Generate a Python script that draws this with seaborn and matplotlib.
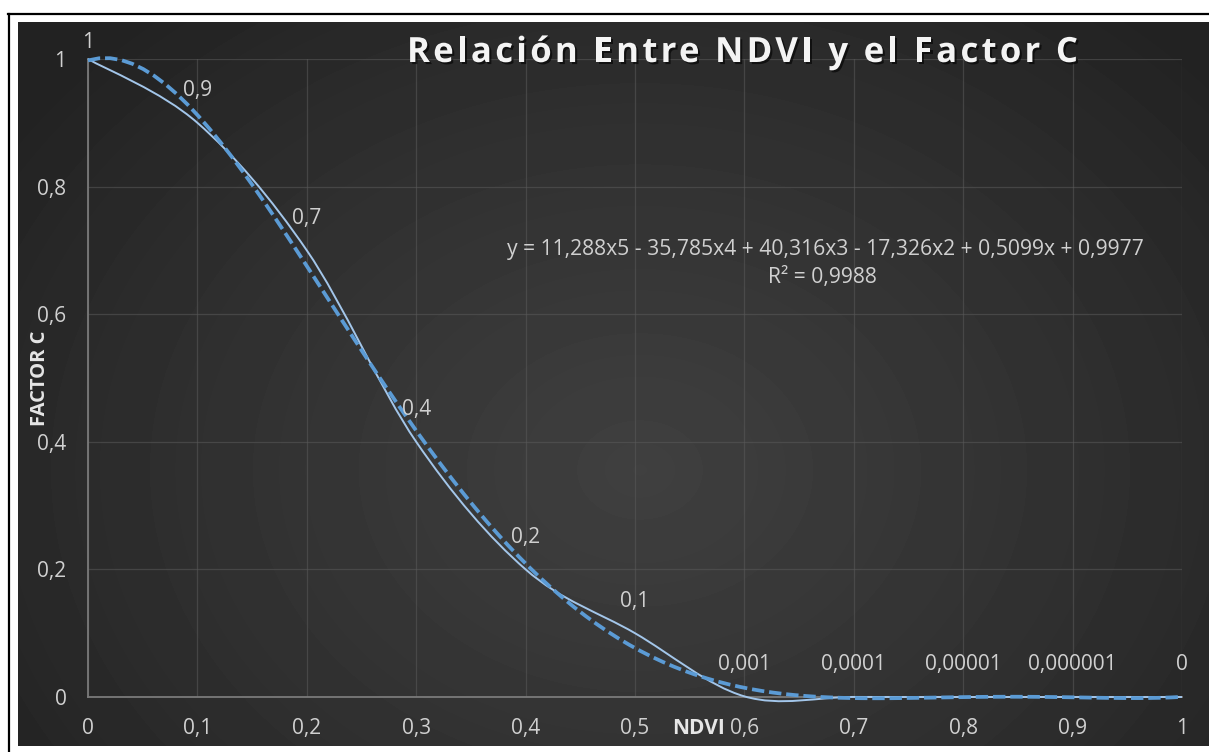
import numpy as np
import pandas as pd
import matplotlib
matplotlib.use("Agg")
import matplotlib.pyplot as plt
import matplotlib.patheffects as pe
from matplotlib.lines import Line2D
from matplotlib.path import Path
from matplotlib.patches import PathPatch
from matplotlib.font_manager import FontProperties
import seaborn as sns

# ---------------- data ----------------
ndvi = [0.0, 0.1, 0.2, 0.3, 0.4, 0.5, 0.6, 0.7, 0.8, 0.9, 1.0]
factor_c = [1.0, 0.9, 0.7, 0.4, 0.2, 0.1, 0.001, 0.0001, 0.00001, 0.000001, 0.0]
point_labels = ["1", "0,9", "0,7", "0,4", "0,2", "0,1", "0,001", "0,0001",
                "0,00001", "0,000001", "0"]
x_ticks = [0.0, 0.1, 0.2, 0.3, 0.4, 0.5, 0.6, 0.7, 0.8, 0.9, 1.0]
x_tick_labels = ["0", "0,1", "0,2", "0,3", "0,4", "0,5", "0,6", "0,7", "0,8", "0,9", "1"]
y_ticks = [0.0, 0.2, 0.4, 0.6, 0.8, 1.0]
y_tick_labels = ["0", "0,2", "0,4", "0,6", "0,8", "1"]
title = "Relación Entre NDVI y el Factor C"
equation = "y = 11,288x5 - 35,785x4 + 40,316x3 - 17,326x2 + 0,5099x + 0,9977"
r2_text = "R² = 0,9988"
x_title = "NDVI"
y_title = "FACTOR C"

# ---------------- figure ----------------
W, H = 1209, 752
plt.rcParams['font.family'] = ['Open Sans', 'DejaVu Sans']
fig = plt.figure(figsize=(W / 100, H / 100), dpi=100)
fig.patch.set_facecolor('white')

def fx(px):
    return px / W

def fy(py):
    return 1 - py / H

# dark gradient chart area
bx0, by0, bx1, by1 = 18, 22, 1209, 746
bg = fig.add_axes([fx(bx0), fy(by1), fx(bx1 - bx0), (by1 - by0) / H], zorder=0)
gx = np.arange(bx0, bx1) + 0.5
gy = np.arange(by0, by1) + 0.5
GX, GY = np.meshgrid(gx, gy)
r = np.sqrt(((GX - 640) / 760.0) ** 2 + ((GY - 470) / 600.0) ** 2)
val = (0x22 + (0x40 - 0x22) * np.clip(1 - r, 0, 1) ** 0.9) / 255.0
bg.imshow(val, cmap='gray', vmin=0, vmax=1, aspect='auto', interpolation='bilinear')
bg.set_axis_off()

# black frame (left and top)
fig.add_artist(Line2D([fx(8.5), fx(8.5)], [0, fy(13.5)], color='black', lw=1.6,
                      transform=fig.transFigure))
fig.add_artist(Line2D([fx(8), 1], [fy(13.5), fy(13.5)], color='black', lw=1.6,
                      transform=fig.transFigure))

# plot area
ax = fig.add_axes([fx(88), fy(697), fx(1182 - 88), (697 - 59) / H], zorder=1)
ax.set_facecolor('none')

df = pd.DataFrame({'NDVI': ndvi, 'FACTOR C': factor_c})

# series drawn as a smoothed line (Excel "smoothed line" style) through the points
pts = df[['NDVI', 'FACTOR C']].to_numpy(dtype=float)
ext = np.vstack([pts[0], pts, pts[-1]])
verts = [tuple(pts[0])]
codes = [Path.MOVETO]
for i in range(len(pts) - 1):
    p0, p1, p2, p3 = ext[i], ext[i + 1], ext[i + 2], ext[i + 3]
    c1 = p1 + (p2 - p0) / 6.0
    c2 = p2 - (p3 - p1) / 6.0
    verts += [tuple(c1), tuple(c2), tuple(p2)]
    codes += [Path.CURVE4] * 3
ax.add_patch(PathPatch(Path(verts, codes), facecolor='none', edgecolor='#a3c6ea',
                       lw=1.4, zorder=3, clip_on=False))

# polynomial (order 5) trendline through seaborn
sns.regplot(data=df, x='NDVI', y='FACTOR C', order=5, ci=None, scatter=False,
            truncate=True, ax=ax,
            line_kws=dict(color='#5b9bd5', lw=2.7, dashes=(3.3, 1.3), zorder=4))
for ln in ax.lines:
    ln.set_clip_on(False)

ax.set_xlim(0, 1)
ax.set_ylim(0, 1)
ax.set_xticks(x_ticks)
ax.set_xticklabels(x_tick_labels)
ax.set_yticks(y_ticks)
ax.set_yticklabels(y_tick_labels)
ax.set_xlabel("")
ax.set_ylabel("")
ax.tick_params(axis='both', length=0, labelsize=15, labelcolor='#d0d0d0')
ax.tick_params(axis='x', pad=22.5)
ax.tick_params(axis='y', pad=15.5)
for lab in ax.get_xticklabels():
    lab.set_verticalalignment('center')

ax.grid(True, color='#5a5a5a', lw=0.9, alpha=0.55)
ax.set_axisbelow(True)
for s in ['top', 'right']:
    ax.spines[s].set_visible(False)
for s in ['left', 'bottom']:
    ax.spines[s].set_color('#7a7a7a')
    ax.spines[s].set_linewidth(1.3)
    ax.spines[s].set_zorder(2)

# data labels above points
for xv, yv, txt in zip(ndvi, factor_c, point_labels):
    off = 16 if yv > 0.95 else 32
    ax.annotate(txt, (xv, yv), xytext=(0, off), textcoords='offset pixels',
                ha='center', va='center', fontsize=15, color='#d0d0d0',
                annotation_clip=False, zorder=5)

# trendline equation
fig.text(fx(825), fy(250), equation, ha='center', va='center', fontsize=15.2,
         color='#d0d0d0')
fig.text(fx(822), fy(277), r2_text, ha='center', va='center', fontsize=15.2,
         color='#d0d0d0')

# axis titles
fig.text(fx(699), fy(728), x_title, ha='center', va='center', fontsize=15,
         fontweight='bold', color='#e6e6e6')
fig.text(fx(40), fy(378), y_title, ha='center', va='center', rotation=90,
         fontsize=14.5, fontweight='bold', color='#e6e6e6')

# title with letter spacing
renderer = fig.canvas.get_renderer()
fp = FontProperties(family=['Open Sans', 'DejaVu Sans'], weight='bold', size=25)

def tw(s):
    return renderer.get_text_width_height_descent(s, fp, ismath=False)[0]

full_w = tw(title)
target_w = 1078 - 407
sp = (target_w - full_w) / (len(title) - 1)
x0 = 407
baseline = 62
shadow = [pe.withSimplePatchShadow(offset=(1.5, -1.5), shadow_rgbFace='black', alpha=0.6)]
for i, ch in enumerate(title):
    if ch == ' ':
        continue
    left = tw(title[:i + 1]) - tw(ch) + i * sp
    fig.text(fx(x0 + left), fy(baseline), ch, fontproperties=fp, color='#f4f4f4',
             ha='left', va='baseline', path_effects=shadow)

fig.savefig('out.png', dpi=100)
